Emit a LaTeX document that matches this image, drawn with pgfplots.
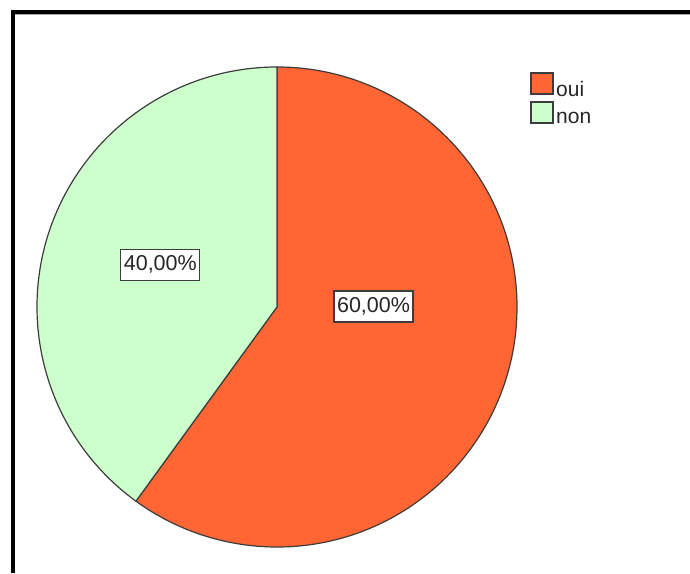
\documentclass[border=0pt]{standalone}
\usepackage{pgfplots}
\pgfplotsset{compat=1.18}
\usepackage{pgfplotstable}
\usepackage{fontspec}
\setmainfont{Liberation Sans}
\definecolor{oui}{RGB}{255,102,51}
\definecolor{non}{RGB}{204,255,204}
\definecolor{edge}{RGB}{60,60,60}
\pgfplotstableread{
label value
oui 60
non 40
}\piedata
\begin{document}
\begin{tikzpicture}
\pgfplotstablegetelem{0}{value}\of\piedata \let\vOui\pgfplotsretval
\pgfplotstablegetelem{1}{value}\of\piedata \let\vNon\pgfplotsretval
\pgfmathsetmacro\fOui{\vOui/(\vOui+\vNon)}
\pgfmathsetmacro\fNon{\vNon/(\vOui+\vNon)}
\pgfmathsetmacro\aOui{360*\fOui}
\pgfmathsetmacro\pOui{100*\fOui}
\pgfmathsetmacro\pNon{100*\fNon}
\begin{axis}[at={(0,0)},anchor=south west,scale only axis,width=690pt,height=573pt,
  xmin=0,xmax=690,ymin=0,ymax=573,hide axis,clip=false,
  /pgf/number format/.cd,fixed,fixed zerofill,precision=2,use comma,assume math mode=true]
% slices
\filldraw[fill=oui,draw=edge,line width=1.2pt,line join=round] (axis cs:277,266) -- ++(90:240pt)
  arc[start angle=90,end angle=90-\aOui,radius=240pt] -- cycle;
\filldraw[fill=non,draw=edge,line width=1.2pt,line join=round] (axis cs:277,266) -- ++(90-\aOui:240pt)
  arc[start angle=90-\aOui,end angle=-270,radius=240pt] -- cycle;
% labels
\tikzset{pielabel/.style={draw=edge,fill=white,line width=1.2pt,inner xsep=3pt,inner ysep=5.5pt,
  text height=16pt,text depth=4pt,font=\fontsize{21.5pt}{23pt}\selectfont,text=black!85}}
\node[pielabel] at (axis cs:373.5,266.5) {\pgfmathprintnumber{\pOui}\%};
\node[pielabel] at (axis cs:160.3,308) {\pgfmathprintnumber{\pNon}\%};
% legend
\filldraw[fill=oui,draw=edge,line width=1.2pt] (axis cs:531,479) rectangle (axis cs:553,500);
\filldraw[fill=non,draw=edge,line width=1.2pt] (axis cs:531,450) rectangle (axis cs:553,471);
\node[anchor=base west,inner sep=0pt,font=\fontsize{21pt}{23pt}\selectfont,text=black!85] at (axis cs:556,476.5) {oui};
\node[anchor=base west,inner sep=0pt,font=\fontsize{21pt}{23pt}\selectfont,text=black!85] at (axis cs:556,449.7) {non};
% frame
\draw[black!35,line width=1.5pt] (axis cs:15,558.3) -- (axis cs:690,558.3);
\draw[black,line width=4pt] (axis cs:11,561) -- (axis cs:690,561);
\draw[black,line width=4pt] (axis cs:13,563) -- (axis cs:13,0);
\end{axis}
\pgfresetboundingbox
\path[use as bounding box] (0,0) rectangle (690pt,573pt);
\end{tikzpicture}
\end{document}
